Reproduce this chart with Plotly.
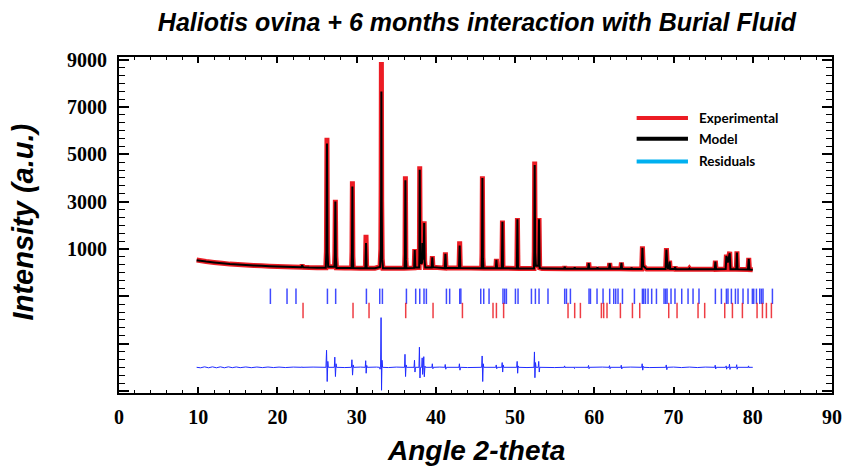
import plotly.graph_objects as go

# ---- Observed / calculated profile (2-theta in degrees, intensity in counts) ----
two_theta = [
    9.80, 11.0, 12.0, 13.0, 14.0, 15.0, 16.0, 17.0, 18.0, 19.0, 20.0, 21.0, 22.0,
    23.0, 23.12, 23.24, 24.0, 25.0,
    26.10, 26.18, 26.25, 26.32, 26.40, 27.20, 27.25, 27.31, 27.37, 27.45,
    28.5, 29.36, 29.41, 29.46, 29.52, 29.58, 30.5,
    31.10, 31.18, 31.26, 32.3,
    32.95, 33.05, 33.09, 33.12, 33.16, 33.22, 33.32,
    36.05, 36.10, 36.15, 36.21, 36.28,
    37.26, 37.33, 37.40, 37.89, 37.92, 37.96, 38.02, 38.10, 38.25, 38.30, 38.36,
    38.46, 38.52, 38.58, 38.66,
    39.47, 39.55, 39.63, 41.12, 41.20, 41.28, 42.92, 43.00, 43.08,
    45.78, 45.82, 45.87, 45.93, 46.00, 47.56, 47.64, 47.72, 48.33, 48.40, 48.47,
    50.22, 50.29, 50.36, 52.38, 52.42, 52.47, 52.53, 52.62, 52.94, 53.02, 53.10, 53.4,
    56.18, 56.26, 56.34, 57.44, 57.52, 57.60, 59.21, 59.29, 59.37,
    60.32, 60.40, 60.48, 61.0,
    61.86, 61.94, 62.02, 63.34, 63.42, 63.50, 64.62, 64.70, 64.78, 65.2,
    65.98, 66.07, 66.16, 66.45, 66.6,
    69.0, 69.1, 69.2, 69.3, 69.42, 69.5, 69.58,
    70.12, 70.20, 70.28, 71.0, 71.92, 72.00, 72.08, 73.0,
    75.2, 75.28, 75.36, 76.58, 76.67, 76.85, 77.09, 77.18, 77.92, 78.0, 78.08,
    79.4, 79.49, 79.58, 80.0,
]
i_obs = [
    530, 470, 430, 395, 360, 340, 325, 305, 290, 272, 260, 248, 238,
    230, 330, 228, 215, 205,
    205, 900, 5700, 900, 250, 250, 800, 3080, 700, 200,
    195, 200, 900, 3860, 700, 195, 190,
    190, 1600, 190, 190,
    250, 1000, 3600, 8900, 3000, 600, 190,
    185, 800, 4070, 600, 185,
    200, 1000, 220, 220, 800, 4490, 900, 400, 450, 1400, 600,
    700, 2170, 500, 220,
    220, 700, 230, 190, 860, 200, 200, 1320, 200,
    185, 800, 4070, 650, 185, 185, 580, 185, 185, 2200, 190,
    180, 2310, 180, 180, 900, 4700, 900, 300, 300, 2310, 200, 170,
    160, 265, 165, 160, 230, 160, 160, 430, 160,
    160, 220, 160, 160,
    160, 410, 160, 160, 430, 160, 155, 220, 155, 150,
    150, 1110, 300, 200, 150,
    150, 1040, 350, 180, 180, 500, 150,
    150, 250, 145, 145, 145, 180, 145, 145,
    140, 500, 140, 150, 760, 450, 880, 140, 140, 900, 140,
    130, 620, 130, 120,
]
i_calc = [
    525, 468, 430, 393, 360, 340, 323, 305, 288, 272, 258, 248, 236,
    230, 310, 228, 215, 205,
    205, 850, 5450, 850, 245, 245, 760, 3000, 650, 200,
    195, 200, 850, 3640, 650, 195, 190,
    190, 1250, 190, 190,
    240, 950, 3300, 7650, 2800, 560, 190,
    185, 750, 3900, 560, 185,
    200, 950, 220, 220, 760, 4350, 850, 380, 420, 1250, 560,
    650, 2100, 480, 220,
    220, 650, 230, 190, 800, 200, 200, 1150, 200,
    185, 750, 4000, 600, 185, 185, 540, 185, 185, 2150, 190,
    180, 2250, 180, 180, 850, 4550, 850, 290, 290, 2250, 200, 170,
    160, 250, 165, 160, 220, 160, 160, 400, 160,
    160, 215, 160, 160,
    160, 390, 160, 160, 410, 160, 155, 210, 155, 150,
    150, 1050, 290, 200, 150,
    150, 980, 340, 180, 180, 470, 150,
    150, 240, 145, 145, 145, 175, 145, 145,
    140, 470, 140, 150, 700, 430, 820, 140, 140, 850, 140,
    130, 580, 130, 120,
]

# ---- Difference curve (obs - calc) ----
diff_theta = [
    9.8, 10.3, 10.8, 11.3, 11.8, 12.3, 12.8, 13.3, 13.8, 14.3, 14.8, 15.3, 16.0,
    16.7, 17.4, 18.1, 18.8, 19.5, 20.2, 21.0, 22.0,
    23.05, 23.1, 23.16, 23.22, 24.5,
    26.12, 26.2, 26.28, 26.36, 26.42,
    27.18, 27.24, 27.32, 27.4, 27.46, 28.5,
    29.34, 29.4, 29.48, 29.56, 29.62, 30.5,
    31.08, 31.14, 31.2, 31.27, 31.33, 32.5,
    32.9, 32.95, 33.02, 33.08, 33.14, 33.2, 33.27, 34.0, 35.0,
    36.04, 36.1, 36.17, 36.24, 36.3,
    37.24, 37.3, 37.36, 37.42, 37.86, 37.92, 37.99, 38.05,
    38.21, 38.27, 38.33, 38.4, 38.47, 38.54, 38.62, 38.68,
    39.49, 39.55, 39.62, 39.68, 40.5,
    41.12, 41.18, 41.25, 41.31, 42.91, 42.97, 43.04, 43.1, 44.0,
    45.78, 45.84, 45.91, 45.98, 46.04, 47.56, 47.62, 47.68, 47.74,
    48.31, 48.37, 48.43, 48.5, 48.56, 50.2, 50.26, 50.32, 50.38, 50.44, 51.5,
    52.38, 52.44, 52.5, 52.57, 52.64, 52.92, 52.98, 53.05, 53.11, 55.0,
    56.19, 56.25, 56.32, 56.38, 57.44, 57.5, 57.56, 57.62,
    59.21, 59.27, 59.33, 59.39, 61.0, 61.86, 61.92, 61.98, 62.04,
    63.34, 63.4, 63.46, 63.52, 64.6,
    65.98, 66.04, 66.11, 66.18, 66.24, 67.0,
    69.02, 69.08, 69.15, 69.21, 70.0, 71.0, 72.0, 73.0, 74.0,
    75.2, 75.26, 75.32, 75.38, 76.58, 76.64, 76.7, 76.76,
    77.0, 77.06, 77.12, 77.18, 77.91, 77.97, 78.03, 78.09,
    79.41, 79.47, 79.53, 79.59, 80.0,
]
diff_val = [
    0, -20, 20, -20, 20, -20, 20, -20, 20, -15, 15, -15, 15,
    -15, 12, -12, 12, -10, 10, -10, 10,
    0, 25, -20, 0, 10,
    0, 720, -600, 250, 0,
    0, 430, -390, 150, 0, -10,
    0, 320, -330, 100, 0, 10,
    0, 280, -250, 80, 0, 10,
    0, -80, 0, 2100, -970, 300, 0, -10, 10,
    0, 550, -390, 100, 0,
    0, 300, -200, 0, 0, 850, -450, 0,
    0, 400, -300, 0, 450, -400, 50, 0,
    0, 150, -60, 0, 10,
    0, 120, -80, 0, 0, 150, -120, 0, -10,
    0, 480, -600, 150, 0, 0, 100, -60, 0,
    0, 200, -200, 100, 0, 0, 250, -250, 60, 0, -10,
    0, 650, -440, 200, 0, 0, 250, -200, 0, -10,
    0, 60, -30, 0, 0, -50, 20, 0,
    0, 80, -60, 0, 10, 0, 70, -60, 0,
    0, 90, -70, 0, 10,
    0, 150, -120, 40, 0, -10,
    0, 100, -100, 0, 10, -10, 10, -10, 10,
    0, 90, -70, 0, 0, 60, -80, 0,
    0, 130, -90, 0, 0, 110, -80, 0,
    0, 60, -30, 0, 0,
]

# ---- Bragg reflection positions ----
aragonite_pos = [
    19.11, 21.21, 22.34, 26.31, 27.35, 31.23, 32.91, 33.25, 36.28, 37.45, 37.96,
    38.50, 38.80, 41.33, 41.74, 43.01, 43.15, 45.66, 46.04, 46.71, 48.47, 48.69,
    48.90, 50.04, 50.37, 52.06, 52.56, 53.02, 54.15, 56.26, 56.48, 56.98, 59.33,
    59.51, 60.34, 61.10, 61.94, 62.45, 62.70, 62.99, 63.55, 65.06, 66.07, 66.23,
    66.45, 66.78, 67.24, 67.84, 68.80, 69.01, 69.18, 69.68, 70.18, 71.03, 71.83,
    72.46, 73.21, 75.28, 76.04, 76.67, 76.87, 77.30, 77.81, 78.14, 78.77, 79.40,
    79.95, 80.12, 80.46, 80.88, 81.09, 81.29, 82.48,
]
calcite_pos = [
    23.23, 29.54, 31.56, 36.19, 39.64, 43.35, 47.21, 47.64, 48.55, 56.68, 57.52,
    58.24, 60.89, 61.18, 61.60, 63.29, 64.81, 65.73, 69.39, 70.44, 73.09, 73.93,
    76.46, 77.43, 78.69, 80.54, 81.22, 81.72, 82.35,
]

# Vertical placement of the lower panels (intensity units)
ARAGONITE_ROW = -1000
CALCITE_ROW = -1600
DIFF_OFFSET = -4000

RED = "#ec1c24"
BLUE = "#1f2bff"

fig = go.Figure()

fig.add_trace(go.Scatter(
    x=two_theta, y=i_obs, mode="lines", name="Experimental",
    line=dict(color=RED, width=5, simplify=False), showlegend=False,
))
fig.add_trace(go.Scatter(
    x=two_theta, y=i_calc, mode="lines", name="Model",
    line=dict(color="#000000", width=2, simplify=False), showlegend=False,
))
fig.add_trace(go.Scatter(
    x=aragonite_pos, y=[ARAGONITE_ROW] * len(aragonite_pos), mode="markers",
    marker=dict(symbol="line-ns", size=11, line=dict(color=BLUE, width=1.5)),
    opacity=0.85, showlegend=False, hoverinfo="x",
))
fig.add_trace(go.Scatter(
    x=calcite_pos, y=[CALCITE_ROW] * len(calcite_pos), mode="markers",
    marker=dict(symbol="line-ns", size=11, line=dict(color=RED, width=1.5)),
    opacity=0.85, showlegend=False, hoverinfo="x",
))
fig.add_trace(go.Scatter(
    x=diff_theta, y=[v + DIFF_OFFSET for v in diff_val], mode="lines",
    name="Residuals", line=dict(color=BLUE, width=1, simplify=False), showlegend=False,
))

tick_font = dict(family="Liberation Serif", size=20, color="#000000", weight="bold")

fig.update_xaxes(
    range=[0, 90], tickmode="linear", tick0=0, dtick=10,
    ticks="inside", ticklen=6, tickwidth=1.5, tickcolor="#000",
    minor=dict(dtick=2, ticklen=3, tickwidth=1, tickcolor="#000", ticks="inside"),
    showline=True, linecolor="#000", linewidth=2, mirror="allticks",
    showgrid=False, zeroline=False, tickfont=tick_font, ticklabelstandoff=5,
    automargin=False,
)
y_ticks = [-5000, -3000, -1000, 1000, 3000, 5000, 7000, 9000]
fig.update_yaxes(
    range=[-5085, 9110], tickmode="array", tickvals=y_ticks,
    ticktext=["" if v < 0 else str(v) for v in y_ticks],
    ticks="inside", ticklen=10, tickwidth=1.5, tickcolor="#000",
    minor=dict(tickmode="linear", tick0=1000, dtick=2000 / 6, ticklen=6,
               tickwidth=1, tickcolor="#000", ticks="inside"),
    showline=True, linecolor="#000", linewidth=2, mirror="allticks",
    showgrid=False, zeroline=False, tickfont=tick_font, ticklabelstandoff=6,
    automargin=False,
)

# Legend drawn as line swatches + labels
legend_items = [("Experimental", RED), ("Model", "#000000"), ("Residuals", "#00b0f0")]
legend_rows = [0.8185, 0.757, 0.689]
shapes = []
annotations = []
for (label, color), yy in zip(legend_items, legend_rows):
    shapes.append(dict(type="line", xref="paper", yref="paper",
                       x0=0.726, x1=0.798, y0=yy, y1=yy,
                       line=dict(color=color, width=4)))
    annotations.append(dict(text=label, xref="paper", yref="paper", x=0.810, y=yy,
                            xanchor="left", yanchor="middle", showarrow=False,
                            font=dict(family="Lato", size=13.5, color="#000", weight="bold")))

title_font = dict(family="Liberation Sans", color="#000", weight="bold", style="italic")
annotations.append(dict(text="Angle 2-theta", xref="paper", yref="paper", x=0.5, y=-0.172,
                        xanchor="center", yanchor="middle", showarrow=False,
                        font=dict(size=28, **title_font)))
annotations.append(dict(text="Intensity (a.u.)", xref="paper", yref="paper", x=-0.135, y=0.51,
                        xanchor="center", yanchor="middle", showarrow=False, textangle=-90,
                        font=dict(size=29, **title_font)))

fig.update_layout(
    width=845, height=467,
    margin=dict(l=119, r=13, t=57, b=74),
    paper_bgcolor="#ffffff", plot_bgcolor="#ffffff",
    title=dict(text="Haliotis ovina + 6 months interaction with Burial Fluid",
               xref="container", yref="container", x=0.5645, y=0.953,
               xanchor="center", yanchor="middle", font=dict(size=25, **title_font)),
    shapes=shapes, annotations=annotations,
    showlegend=False,
)

fig.write_html("out.html")
